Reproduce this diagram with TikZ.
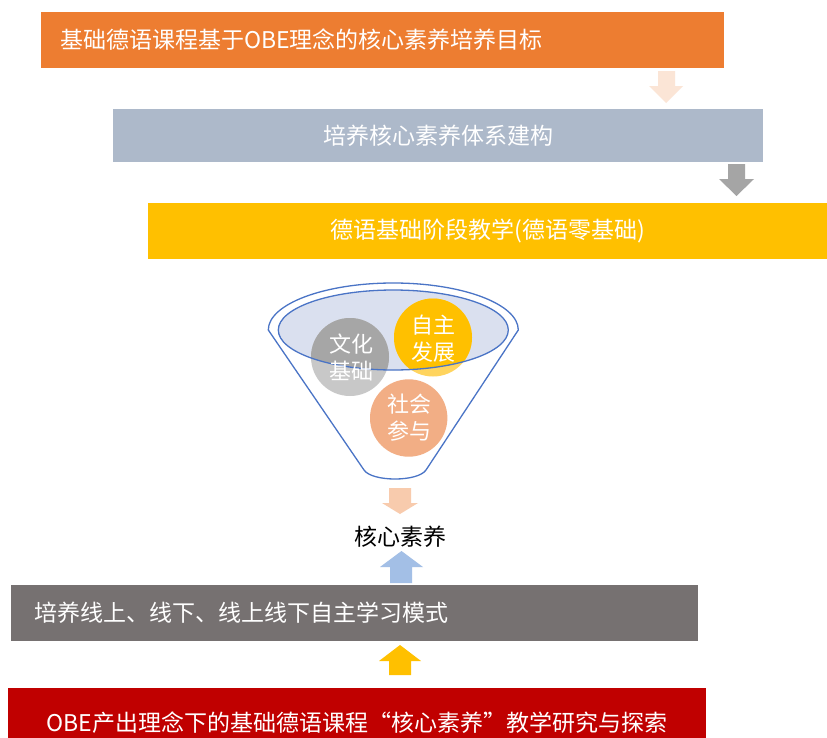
\documentclass[tikz,border=0pt]{standalone}
\usepackage{fontspec}
\setmainfont{Noto Sans CJK SC}
\definecolor{orangebox}{HTML}{ED7D31}
\definecolor{bluegreybox}{HTML}{ADB9CA}
\definecolor{yellowbox}{HTML}{FFC000}
\definecolor{darkgreybox}{HTML}{767171}
\definecolor{redbox}{HTML}{C00000}
\definecolor{peacharrow}{HTML}{FBE5D6}
\definecolor{greyarrow}{HTML}{A5A5A5}
\definecolor{pinkarrow}{HTML}{F8CBAD}
\definecolor{bluearrow}{HTML}{A3BFE6}
\definecolor{funnelline}{HTML}{4A74C6}
\definecolor{ellfill}{HTML}{DAE0EF}
\definecolor{greystrong}{HTML}{A6A6A6}
\definecolor{greylight}{HTML}{C8C8C8}
\definecolor{yellowlight}{HTML}{FFD45E}
\definecolor{orangecirc}{HTML}{F2AE85}
\begin{document}
\begin{tikzpicture}[x=1pt,y=-1pt,
  boxnode/.style={draw=none, inner ysep=0pt, minimum height=56pt, text=white, font=\fontsize{23}{27}\selectfont},
  circtext/.style={circle, minimum size=78pt, inner sep=0pt, text=white, align=center, font=\fontsize{22}{27}\selectfont},
  blockarrow/.style={draw=none},
  funnelstroke/.style={draw=funnelline, line width=1.3pt}
]
\clip (0,0) rectangle (827,737);
\fill[white] (0,0) rectangle (827,737);

% boxes
\node[boxnode, fill=orangebox, inner xsep=19pt, text width=645pt, align=left] (b1) at (382.5,40) {基础德语课程基于OBE理念的核心素养培养目标};
\node[boxnode, fill=bluegreybox, minimum width=650pt, minimum height=53pt] (b2) at (438,135.5) {培养核心素养体系建构};
\node[boxnode, fill=yellowbox, minimum width=679pt] (b3) at (487.5,231) {德语基础阶段教学(德语零基础)};
\node[boxnode, fill=darkgreybox, inner xsep=23pt, text width=641pt, align=left] (b4) at (354.5,613) {培养线上、线下、线上线下自主学习模式};
\node[boxnode, fill=redbox, minimum width=698pt, minimum height=70pt] (b5) at (357,723) {OBE产出理念下的基础德语课程“核心素养”教学研究与探索};

% block arrows
\fill[blockarrow, peacharrow] (658,71) -- (675,71) -- (675,86) -- (683,86) -- (666,103) -- (649,86) -- (658,86) -- cycle;
\fill[blockarrow, greyarrow] (728,164) -- (745,164) -- (745,179) -- (754,179) -- (736.5,196) -- (719,179) -- (728,179) -- cycle;
\fill[blockarrow, pinkarrow] (389,488) -- (411,488) -- (411,503) -- (418,503) -- (400,514) -- (382,503) -- (389,503) -- cycle;
\fill[blockarrow, bluearrow] (390,583) -- (412,583) -- (412,567) -- (423,567) -- (401.5,551) -- (380,567) -- (390,567) -- cycle;
\fill[blockarrow, yellowbox] (389,675) -- (411,675) -- (411,661) -- (421,661) -- (400,645) -- (379,661) -- (389,661) -- cycle;

% funnel
\draw[funnelstroke] (268.3,330) -- (364,470) .. controls (372,482) and (418,482) .. (426,470) -- (518.3,330) arc[start angle=0, end angle=180, x radius=125pt, y radius=47pt] -- cycle;
\fill[ellfill] (393.3,330) ellipse[x radius=115pt, y radius=40pt];

% circles, light parts
\fill[greylight] (350,357) circle[radius=39pt];
\fill[yellowlight] (433,337.5) circle[radius=39pt];
\fill[orangecirc] (408.7,418) circle[radius=38.7pt];
% circles, strong parts inside the ellipse
\begin{scope}
  \clip (393.3,330) ellipse[x radius=115pt, y radius=40pt];
  \fill[greystrong] (350,357) circle[radius=39pt];
  \fill[yellowbox] (433,337.5) circle[radius=39pt];
\end{scope}
\draw[funnelstroke] (393.3,330) ellipse[x radius=115pt, y radius=40pt];

\node[circtext] (wh) at (351,357) {文化\\基础};
\node[circtext] (zz) at (433,339) {自主\\发展};
\node[circtext] (sh) at (409,418) {社会\\参与};

\node[font=\fontsize{23}{27}\selectfont, text=black] (hx) at (400,537) {核心素养};
\end{tikzpicture}
\end{document}
